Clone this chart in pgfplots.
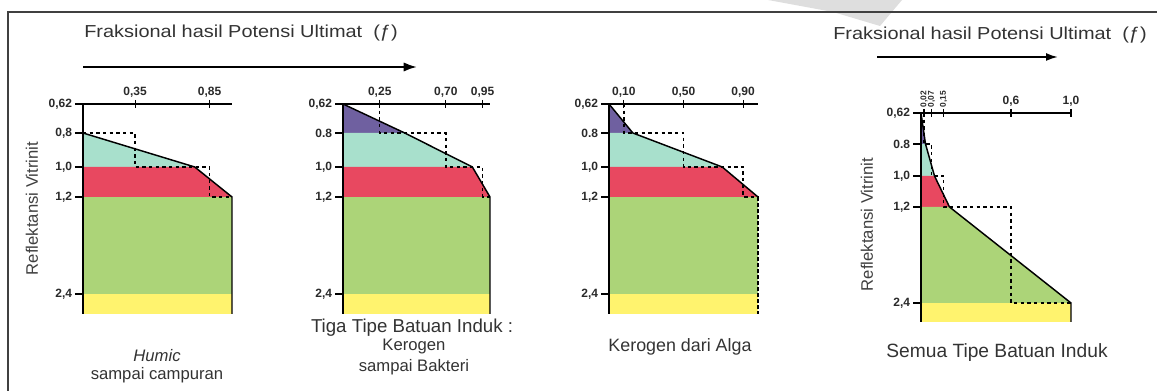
\documentclass[border=0pt]{standalone}
\usepackage{pgfplots}
\pgfplotsset{compat=1.18}
\usepackage{fontspec}
\setmainfont{Liberation Sans}
\usetikzlibrary{arrows.meta}

\definecolor{cpurple}{HTML}{6F60A0}
\definecolor{cteal}{HTML}{A8E0CC}
\definecolor{cred}{HTML}{E84860}
\definecolor{cgreen}{HTML}{ACD478}
\definecolor{cyellow}{HTML}{FFF36E}
\definecolor{ink}{HTML}{2A2A2A}

\pgfplotsset{
  panel/.style={
    scale only axis, height=157.5pt,
    xmin=0, xmax=1, ymin=-210, ymax=0,
    axis x line*=top, axis y line*=left,
    axis line style={-, line width=1.1pt, black},
    every outer x axis line/.append style={-},
    every outer y axis line/.append style={-},
    clip=false, axis on top,
    xtick align=center, ytick align=outside,
    major tick length=6pt,
    tick style={line width=0.8pt, black},
    tick label style={font=\bfseries\fontsize{9}{10}\selectfont, text=ink, inner sep=2pt},
    anchor=north west,
  },
  curve/.style={line width=1.1pt, black},
  stair/.style={line width=1.1pt, black, dash pattern=on 2.5pt off 2.5pt},
}

\begin{document}
\begin{tikzpicture}[x=0.75pt,y=0.75pt]
\useasboundingbox (0,0) rectangle (1157,391);
% watermark fragment
\fill[black!13] (768,391) -- (902,391) -- (880,365) -- (833,379) -- cycle;
% frame
\draw[line width=0.8pt, black!75] (8,0) -- (8,379) -- (1157,379);

% titles and arrows
\node[font=\fontsize{13}{15}\selectfont, xscale=1.15, text=black!80] at (241,358) {Fraksional hasil Potensi Ultimat\ \ (ƒ)};
\draw[line width=1.6pt, -{Latex[length=10pt,width=7pt]}] (83,324) -- (417,324);
\node[font=\fontsize{13}{15}\selectfont, xscale=1.15, text=black!80] at (990,356) {Fraksional hasil Potensi Ultimat\ \ (ƒ)};
\draw[line width=1.4pt, -{Latex[length=9pt,width=6pt]}] (877,334) -- (1058,334);

% y labels
\node[rotate=90, font=\fontsize{12.5}{14}\selectfont, text=black!75] at (32,182.5) {Reflektansi Vitrinit};
\node[rotate=90, font=\fontsize{12.5}{14}\selectfont, text=black!75] at (867,166.5) {Reflektansi Vitrinit};

% bottom labels
\node[font=\itshape\fontsize{12.5}{14}\selectfont, text=black!80] at (157,35) {Humic};
\node[font=\fontsize{12.5}{14}\selectfont, text=black!80] at (157,16) {sampai campuran};
\node[font=\fontsize{14}{16}\selectfont, text=black!80] at (412,63) {Tiga Tipe Batuan Induk :};
\node[font=\fontsize{12.5}{14}\selectfont, text=black!80] at (414,44) {Kerogen};
\node[font=\fontsize{12.5}{14}\selectfont, text=black!80] at (414,24) {sampai Bakteri};
\node[font=\fontsize{13.4}{15}\selectfont, text=black!80] at (680,44) {Kerogen dari Alga};
\node[font=\fontsize{14.4}{16}\selectfont, text=black!80] at (997,38) {Semua Tipe Batuan Induk};

% ---------- Panel 1 ----------
\begin{axis}[panel, at={(62.25pt,215.25pt)}, width=111.75pt,
  xtick={0.35,0.85}, xticklabels={{0,35},{0,85}},
  ytick={-190,-93,-63,-29,0}, yticklabels={{2,4},{1,2},{1,0},{0,8},{0,62}}]
\addplot[fill=cteal, draw=none] coordinates {(0,-29) (0.75,-63) (0,-63)} -- cycle;
\addplot[fill=cred, draw=none] coordinates {(0,-63) (0.75,-63) (1,-93) (0,-93)} -- cycle;
\addplot[fill=cgreen, draw=none] coordinates {(0,-93) (1,-93) (1,-190) (0,-190)} -- cycle;
\addplot[fill=cyellow, draw=none] coordinates {(0,-190) (1,-190) (1,-210) (0,-210)} -- cycle;
\addplot[stair] coordinates {(0,-29) (0.35,-29) (0.35,-63) (0.85,-63) (0.85,-93) (1,-93)};
\addplot[curve] coordinates {(0,-29) (0.75,-63) (1,-93) (1,-210)};
\end{axis}

% ---------- Panel 2 ----------
\begin{axis}[panel, at={(257.25pt,215.25pt)}, width=110.25pt,
  xtick={0.25,0.70,0.95}, xticklabels={{0,25},{0,70},{0,95}},
  ytick={-190,-93,-63,-29,0}, yticklabels={{2,4},{1,2},{1,0},{0.8},{0,62}}]
\addplot[fill=cpurple, draw=none] coordinates {(0,0) (0.42,-29) (0,-29)} -- cycle;
\addplot[fill=cteal, draw=none] coordinates {(0,-29) (0.42,-29) (0.88,-63) (0,-63)} -- cycle;
\addplot[fill=cred, draw=none] coordinates {(0,-63) (0.88,-63) (1,-93) (0,-93)} -- cycle;
\addplot[fill=cgreen, draw=none] coordinates {(0,-93) (1,-93) (1,-190) (0,-190)} -- cycle;
\addplot[fill=cyellow, draw=none] coordinates {(0,-190) (1,-190) (1,-210) (0,-210)} -- cycle;
\addplot[stair] coordinates {(0.25,0) (0.25,-29) (0.70,-29) (0.70,-63) (0.95,-63) (0.95,-93) (1,-93)};
\addplot[curve] coordinates {(0,0) (0.42,-29) (0.88,-63) (1,-93) (1,-210)};
\end{axis}

% ---------- Panel 3 ----------
\begin{axis}[panel, at={(456.75pt,215.25pt)}, width=111.75pt,
  xtick={0.10,0.50,0.90}, xticklabels={{0,10},{0,50},{0,90}},
  ytick={-190,-93,-63,-29,0}, yticklabels={{2,4},{1,2},{1,0},{0.8},{0,62}}]
\addplot[fill=cpurple, draw=none] coordinates {(0,0) (0.16,-29) (0,-29)} -- cycle;
\addplot[fill=cteal, draw=none] coordinates {(0,-29) (0.16,-29) (0.76,-63) (0,-63)} -- cycle;
\addplot[fill=cred, draw=none] coordinates {(0,-63) (0.76,-63) (1,-93) (0,-93)} -- cycle;
\addplot[fill=cgreen, draw=none] coordinates {(0,-93) (1,-93) (1,-190) (0,-190)} -- cycle;
\addplot[fill=cyellow, draw=none] coordinates {(0,-190) (1,-190) (1,-210) (0,-210)} -- cycle;
\addplot[stair] coordinates {(0.10,0) (0.10,-29) (0.50,-29) (0.50,-63) (0.90,-63) (0.90,-93) (1,-93)};
\addplot[curve] coordinates {(0,0) (0.16,-29) (0.76,-63) (1,-93)};
\addplot[line width=1.1pt, black, dash pattern=on 3pt off 1.5pt] coordinates {(1,-93) (1,-210)};
\end{axis}

% ---------- Panel 4 ----------
\begin{axis}[panel, at={(690.75pt,208.5pt)}, width=112.5pt, height=156.75pt, ymin=-209,
  xtick={0.6,1.0}, xticklabels={{0,6},{1,0}},
  extra x ticks={0.02,0.07,0.15}, extra x tick labels={{0,02},{0,07},{0,15}},
  extra x tick style={xticklabel style={rotate=90, anchor=west, inner sep=1pt, font=\bfseries\fontsize{6.3}{7}\selectfont}},
  ytick={-190,-94,-63,-31,0}, yticklabels={{2,4},{1,2},{1,0},{0.8},{0,62}}]
\addplot[fill=cpurple, draw=none] coordinates {(0,0) (0.03,-31) (0,-31)} -- cycle;
\addplot[fill=cteal, draw=none] coordinates {(0,-31) (0.03,-31) (0.09,-63) (0,-63)} -- cycle;
\addplot[fill=cred, draw=none] coordinates {(0,-63) (0.09,-63) (0.19,-94) (0,-94)} -- cycle;
\addplot[fill=cgreen, draw=none] coordinates {(0,-94) (0.19,-94) (1,-190) (0,-190)} -- cycle;
\addplot[fill=cyellow, draw=none] coordinates {(0,-190) (1,-190) (1,-209) (0,-209)} -- cycle;
\addplot[stair] coordinates {(0.02,0) (0.02,-31) (0.07,-31) (0.07,-63) (0.15,-63) (0.15,-94) (0.6,-94) (0.6,-190) (1,-190)};
\addplot[curve] coordinates {(0,0) (0.03,-31) (0.09,-63) (0.19,-94) (1,-190) (1,-209)};
\end{axis}
\end{tikzpicture}
\end{document}
